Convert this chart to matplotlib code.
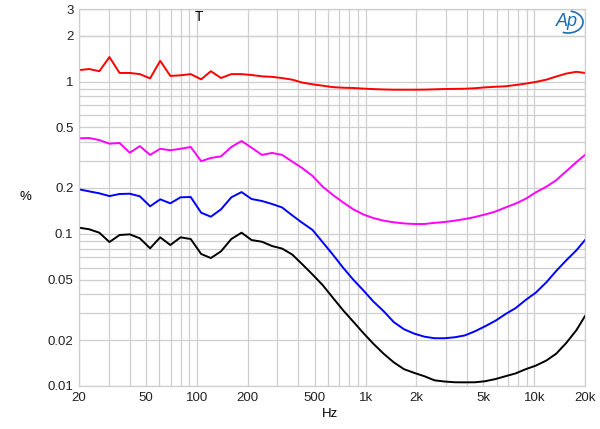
import numpy as np
import matplotlib
matplotlib.use("Agg")
import matplotlib.pyplot as plt
from matplotlib.patches import Arc
from matplotlib.ticker import FixedLocator, NullFormatter

plt.rcParams['font.family'] = ['Liberation Sans', 'DejaVu Sans']

# 1/5-octave frequency points, Hz
freq = [20, 23, 26.4, 30.3, 34.8, 40, 45.9, 52.8, 60.6, 69.6, 80, 91.9,
        106, 121, 139, 160, 184, 211, 243, 279, 320, 368, 422, 485, 557,
        640, 735, 845, 970, 1110, 1280, 1470, 1690, 1940, 2230, 2560, 2940,
        3380, 3880, 4460, 5120, 5880, 6760, 7760, 8910, 10200, 11800, 13500,
        15500, 17800, 20000]

# THD+N, percent
red = [1.19, 1.21, 1.17, 1.45, 1.14, 1.14, 1.12, 1.05, 1.37, 1.09, 1.10, 1.12,
       1.035, 1.17, 1.056, 1.12, 1.12, 1.105, 1.083, 1.075, 1.055, 1.03, 0.985,
       0.96, 0.94, 0.92, 0.912, 0.908, 0.90, 0.893, 0.888, 0.885, 0.885, 0.885,
       0.886, 0.89, 0.894, 0.896, 0.898, 0.905, 0.917, 0.925, 0.932, 0.95, 0.97,
       0.995, 1.03, 1.08, 1.13, 1.16, 1.14]
magenta = [0.424, 0.426, 0.413, 0.391, 0.395, 0.341, 0.377, 0.33, 0.362, 0.354,
           0.362, 0.372, 0.30, 0.315, 0.323, 0.372, 0.407, 0.368, 0.33, 0.34,
           0.33, 0.298, 0.27, 0.24, 0.204, 0.18, 0.161, 0.145, 0.134, 0.127,
           0.122, 0.119, 0.117, 0.116, 0.116, 0.118, 0.1195, 0.122, 0.125,
           0.129, 0.134, 0.140, 0.149, 0.158, 0.170, 0.187, 0.204, 0.225,
           0.258, 0.296, 0.330]
blue = [0.196, 0.190, 0.1845, 0.177, 0.1826, 0.1834, 0.1764, 0.1516, 0.1685,
        0.1586, 0.1737, 0.1745, 0.1376, 0.1295, 0.1448, 0.1737, 0.188, 0.1693,
        0.1643, 0.157, 0.149, 0.132, 0.118, 0.106, 0.088, 0.073, 0.060, 0.050,
        0.0425, 0.036, 0.031, 0.0263, 0.0236, 0.0221, 0.0211, 0.0206, 0.0206,
        0.0209, 0.0215, 0.0229, 0.0247, 0.0268, 0.0297, 0.0325, 0.0368, 0.041,
        0.048, 0.057, 0.067, 0.078, 0.091]
black = [0.1097, 0.1071, 0.1017, 0.0883, 0.0982, 0.0992, 0.0934, 0.0803, 0.0948,
         0.0844, 0.0948, 0.0924, 0.0737, 0.0693, 0.0767, 0.0924, 0.1017, 0.091,
         0.0887, 0.0831, 0.080, 0.073, 0.063, 0.054, 0.046, 0.038, 0.0315,
         0.0265, 0.0223, 0.019, 0.0163, 0.0143, 0.0129, 0.0122, 0.0116, 0.0109,
         0.0107, 0.01058, 0.01057, 0.01058, 0.01075, 0.0111, 0.0116, 0.0121,
         0.0129, 0.0136, 0.0147, 0.0163, 0.0192, 0.0233, 0.0288]

xticks = [20, 50, 100, 200, 500, 1000, 2000, 5000, 10000, 20000]
xlabels = ['20', '50', '100', '200', '500', '1k', '2k', '5k', '10k', '20k']
yticks = [0.01, 0.02, 0.05, 0.1, 0.2, 0.5, 1, 2, 3]
ylabels = ['0.01', '0.02', '0.05', '0.1', '0.2', '0.5', '1', '2', '3']

fig = plt.figure(figsize=(6, 4.29), dpi=100)
ax = fig.add_axes([79/600, 1-386/429, 506/600, 377/429])
ax.set_xscale('log')
ax.set_yscale('log')
ax.set_xlim(20, 20000)
ax.set_ylim(0.01, 3)

# grid at every 1-2-...-9 step
xgrid = [m*10**e for e in range(1, 5) for m in range(1, 10) if 20 <= m*10**e <= 20000]
ygrid = [m*10**e for e in range(-2, 1) for m in range(1, 10)] + [2, 3]
for g in xgrid:
    ax.axvline(g, color='#cfcfcf', lw=0.9, zorder=0)
for g in ygrid:
    ax.axhline(g, color='#cfcfcf', lw=0.9, zorder=0)

ax.plot(freq, red, color='#ff0000', lw=1.4)
ax.plot(freq, magenta, color='#ff00ff', lw=1.4)
ax.plot(freq, blue, color='#0000ff', lw=1.4)
ax.plot(freq, black, color='#000000', lw=1.4)

ax.xaxis.set_major_locator(FixedLocator(xticks))
ax.set_xticklabels(xlabels)
ax.xaxis.set_minor_locator(FixedLocator([]))
ax.xaxis.set_minor_formatter(NullFormatter())
ax.yaxis.set_major_locator(FixedLocator(yticks))
ax.set_yticklabels(ylabels)
ax.yaxis.set_minor_locator(FixedLocator([]))
ax.yaxis.set_minor_formatter(NullFormatter())
ax.tick_params(length=0, labelsize=9.5, pad=4, colors='#222222')
for s in ax.spines.values():
    s.set_color('#cfcfcf')
    s.set_linewidth(0.9)

fig.text(25/600, 1-197/429, '%', fontsize=9.5, ha='center', va='center')
fig.text(330/600, 1-414/429, 'Hz', fontsize=9.5, ha='center', va='center')
ax.text(0.237, 0.998, 'T', transform=ax.transAxes, fontsize=10,
        ha='center', va='top')

# Audio Precision logo
fig.text(567/600, 1-22/429, 'Ap', fontsize=13, style='italic',
         color='#1a6db3', ha='center', va='center')
fig.add_artist(Arc((568/600, 1-22/429), 30/600, 22/429, theta1=-110, theta2=80,
                   transform=fig.transFigure, color='#1a6db3', lw=1.2))

fig.savefig('out.png', dpi=100)
